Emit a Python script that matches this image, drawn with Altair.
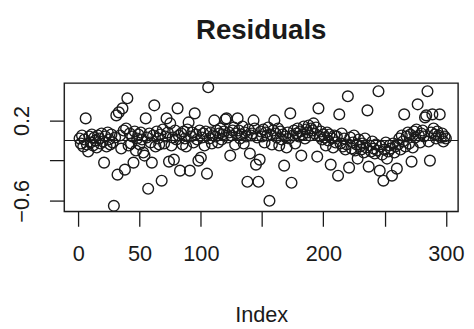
import altair as alt
import pandas as pd

# Residual values, by index 1..300 (rows of 10)
resid_rows = [
    [0.02, -0.03, 0.05, -0.06, 0.01, 0.22, -0.04, -0.11, 0.04, -0.02],
    [0.06, -0.05, 0.03, 0.00, -0.07, 0.05, 0.02, -0.03, 0.07, -0.01],
    [-0.22, 0.04, -0.06, 0.08, 0.01, -0.04, 0.06, -0.02, -0.65, 0.03],
    [0.25, -0.34, 0.28, 0.05, -0.08, 0.32, 0.10, -0.29, 0.12, 0.42],
    [-0.05, 0.07, -0.03, 0.04, -0.22, 0.09, -0.10, 0.02, 0.06, -0.04],
    [0.08, 0.01, -0.12, -0.15, 0.22, 0.03, -0.48, 0.07, -0.02, -0.22],
    [0.05, 0.35, -0.06, 0.09, 0.02, -0.04, 0.06, -0.40, 0.11, -0.03],
    [0.04, 0.22, 0.08, -0.21, 0.17, -0.05, 0.03, -0.19, 0.10, 0.01],
    [0.32, 0.05, -0.30, 0.07, -0.04, 0.09, 0.02, -0.06, 0.11, 0.18],
    [-0.30, 0.04, 0.08, -0.02, 0.27, 0.06, 0.01, -0.20, 0.10, -0.17],
    [0.03, 0.07, -0.05, 0.09, -0.33, 0.53, 0.02, 0.08, -0.03, 0.05],
    [0.20, 0.04, 0.10, -0.02, 0.07, 0.12, 0.01, 0.06, 0.09, 0.21],
    [0.22, 0.03, 0.08, -0.15, 0.05, 0.10, 0.13, -0.04, 0.07, 0.22],
    [0.10, 0.02, 0.06, 0.14, -0.03, 0.08, 0.04, -0.41, 0.11, -0.13],
    [0.05, 0.07, 0.20, 0.12, -0.24, 0.03, -0.41, -0.19, 0.09, 0.04],
    [0.11, -0.02, 0.08, 0.05, 0.13, -0.60, 0.06, -0.04, 0.10, 0.20],
    [0.07, 0.03, 0.12, -0.05, 0.09, 0.01, 0.06, -0.25, 0.04, -0.07],
    [0.08, 0.02, 0.27, -0.42, 0.05, 0.10, -0.03, 0.07, 0.12, 0.04],
    [0.09, -0.15, 0.06, 0.14, 0.02, 0.11, 0.08, 0.15, 0.05, 0.12],
    [0.10, 0.17, 0.07, 0.13, -0.16, 0.32, 0.04, 0.09, 0.01, 0.06],
    [0.03, -0.05, 0.08, 0.00, 0.06, -0.24, 0.02, -0.07, 0.05, -0.02],
    [0.04, -0.35, 0.26, -0.03, 0.07, -0.06, 0.02, -0.09, -0.04, 0.44],
    [-0.27, 0.03, -0.08, -0.02, 0.05, -0.10, -0.04, -0.18, 0.01, -0.06],
    [-0.09, -0.03, -0.12, 0.02, -0.07, 0.30, -0.26, -0.05, -0.11, -0.01],
    [-0.08, -0.13, -0.04, -0.10, 0.49, -0.30, -0.06, -0.14, -0.40, -0.09],
    [-0.02, -0.18, -0.11, -0.05, -0.08, -0.35, -0.03, -0.12, -0.06, -0.28],
    [-0.04, 0.02, -0.09, 0.05, -0.01, 0.26, -0.06, 0.04, 0.08, -0.03],
    [0.06, -0.21, -0.07, 0.09, 0.03, 0.11, 0.36, 0.05, -0.02, 0.07],
    [0.10, 0.04, 0.23, 0.25, 0.49, -0.01, -0.20, 0.08, 0.26, 0.12],
    [0.06, 0.02, 0.09, 0.05, 0.26, 0.03, 0.07, -0.01, 0.04, 0.02],
]
residuals = [v for row in resid_rows for v in row]
index = list(range(1, len(residuals) + 1))

x_ticks = [0, 50, 100, 150, 200, 250, 300]
x_labels_shown = [0, 50, 100, 200, 300]
y_ticks = [-0.6, -0.4, -0.2, 0.0, 0.2, 0.4]
y_labels_shown = [-0.6, 0.2]

df = pd.DataFrame({"Index": index, "res": residuals})

FONT = "Liberation Sans"
INK = "#1a1a1a"

x_enc = alt.X(
    "Index:Q",
    scale=alt.Scale(domain=[-11.5, 310], nice=False, zero=False),
    axis=alt.Axis(
        values=x_ticks,
        labelExpr="indexof([" + ",".join(str(v) for v in x_labels_shown) + "], datum.value) >= 0 ? datum.label : ''",
        domain=False, grid=False, tickSize=15, tickWidth=1.3, tickColor=INK,
        labelFontSize=22, labelFont=FONT, labelColor=INK, labelPadding=18,
        labelOverlap=False, labelFlush=False,
        title="Index", titleFontSize=22, titleFont=FONT, titleFontWeight="normal",
        titleColor=INK, titlePadding=41,
    ),
)
y_enc = alt.Y(
    "res:Q",
    scale=alt.Scale(domain=[-0.706, 0.571], nice=False, zero=False),
    axis=alt.Axis(
        values=y_ticks,
        labelExpr="indexof([" + ",".join(str(v) for v in y_labels_shown) + "], datum.value) >= 0 ? datum.label : ''",
        domain=False, grid=False, tickSize=15, tickWidth=1.3, tickColor=INK,
        labelFontSize=22, labelFont=FONT, labelColor=INK, labelPadding=16,
        labelAngle=270, labelAlign="center", labelBaseline="bottom",
        labelOverlap=False, labelFlush=False, title="",
    ),
)

points = alt.Chart(df).mark_point(
    shape="circle", filled=False, size=118, strokeWidth=1.4, color=INK, opacity=1
).encode(x=x_enc, y=y_enc)

zero_line = alt.Chart(pd.DataFrame({"h": [0.0]})).mark_rule(
    color=INK, strokeWidth=1.2
).encode(y=alt.Y("h:Q"))

frame = alt.Chart(pd.DataFrame({"k": [0]})).mark_rect(
    fill=None, fillOpacity=0, stroke=INK, strokeWidth=1.4
).encode(
    x=alt.value(0), x2=alt.value(399), y=alt.value(0), y2=alt.value(130)
)

chart = (
    alt.layer(points, zero_line, frame)
    .properties(
        width=399, height=130,
        title=alt.TitleParams(
            "Residuals", fontSize=28, fontWeight="bold", font=FONT, color=INK,
            anchor="middle", offset=35,
        ),
        autosize=alt.AutoSizeParams(type="none"),
        padding={"left": 57, "top": 74, "right": 8, "bottom": 119},
    )
    .configure_view(stroke=None)
    .configure(background="white")
)

chart.save("out.html", embed_options={"renderer": "svg", "actions": False})
